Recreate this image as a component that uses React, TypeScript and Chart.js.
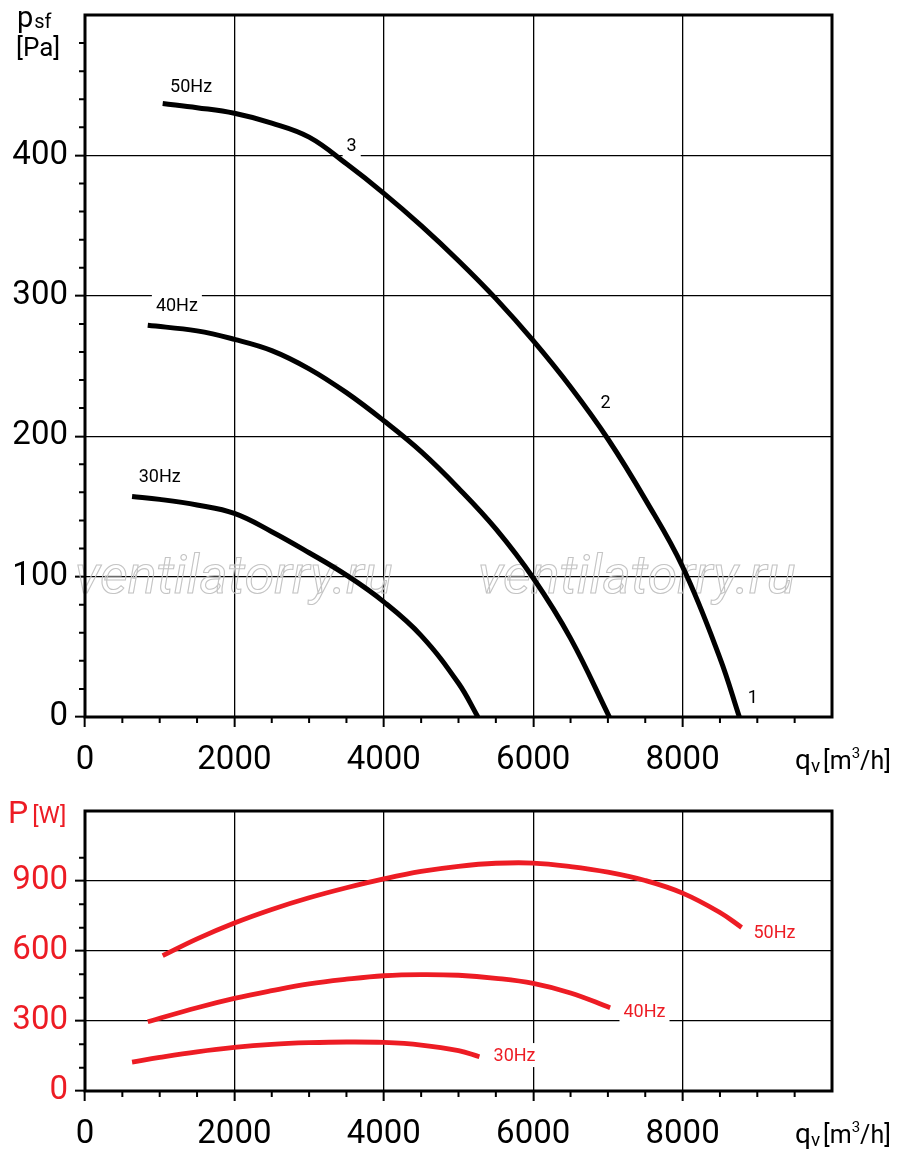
import React, { useEffect, useRef } from "react";
import { Chart, registerables } from "chart.js";

Chart.register(...registerables);

const BLACK = "#000000";
const RED = "#ed1c24";
const FONT = "Roboto, 'DejaVu Sans', sans-serif";

// pressure curves, psf [Pa] over qv [m3/h]
const flow50 = [1040, 1500, 2000, 2500, 3000, 3500, 4000, 4500, 5000, 5500, 6000, 6500, 7000, 7500, 8000, 8500, 8760];
const pressure50 = [437, 434, 430, 423, 413, 394, 373, 350, 325, 298, 268, 235, 198, 155, 107, 42, 0];
const flow40 = [840, 1500, 2000, 2500, 3000, 3500, 4000, 4500, 5000, 5500, 6000, 6500, 7020];
const pressure40 = [279, 275, 269, 261, 248, 231, 211, 189, 163, 134, 99, 56, 0];
const flow30 = [630, 1000, 1500, 2000, 2500, 3000, 3500, 4000, 4500, 5000, 5260];
const pressure30 = [157, 155, 151, 145, 132, 117, 101, 82, 58, 24, 0];

// power curves, P [W] over qv [m3/h]
const flowW50 = [1040, 1500, 2000, 2500, 3000, 3500, 4000, 4500, 5000, 5500, 6000, 6500, 7000, 7500, 8000, 8500, 8790];
const power50 = [580, 652, 720, 778, 828, 871, 909, 941, 963, 976, 977, 962, 938, 902, 848, 765, 701];
const flowW40 = [840, 1500, 2000, 2500, 3000, 3500, 4000, 4500, 5000, 5500, 6000, 6500, 7030];
const power40 = [297, 357, 397, 430, 459, 479, 494, 499, 496, 483, 461, 420, 357];
const flowW30 = [630, 1000, 1500, 2000, 2500, 3000, 3500, 4000, 4500, 5000, 5280];
const power30 = [124, 144, 168, 187, 200, 207, 210, 208, 197, 173, 147];

const flowTickLabels = [0, 2000, 4000, 6000, 8000];
const pressureTickLabels = [0, 100, 200, 300, 400];
const powerTickLabels = [0, 300, 600, 900];

type Note = { text: string; x: number; y: number };

const pressureNotes: Note[] = [
  { text: "50Hz", x: 1420, y: 449 },
  { text: "40Hz", x: 1230, y: 293 },
  { text: "30Hz", x: 1000, y: 171 },
  { text: "3", x: 3570, y: 407 },
  { text: "2", x: 6970, y: 224 },
  { text: "1", x: 8940, y: 14 },
];
const powerNotes: Note[] = [
  { text: "50Hz", x: 9230, y: 681 },
  { text: "40Hz", x: 7490, y: 339 },
  { text: "30Hz", x: 5750, y: 154 },
];

type Series = { flow: number[]; values: number[]; color: string; width: number };
type Part = { text: string; size: number; dy: number; gap?: number };

function drawParts(ctx: CanvasRenderingContext2D, x: number, y: number, parts: Part[], color: string) {
  ctx.save();
  ctx.fillStyle = color;
  ctx.textAlign = "left";
  ctx.textBaseline = "alphabetic";
  let cx = x;
  for (const p of parts) {
    cx += p.gap ?? 0;
    ctx.font = `${p.size}px ${FONT}`;
    ctx.fillText(p.text, cx, y + p.dy);
    cx += ctx.measureText(p.text).width;
  }
  ctx.restore();
}

function drawFlowTitle(ctx: CanvasRenderingContext2D, bottom: number) {
  drawParts(
    ctx,
    795,
    bottom + 52,
    [
      { text: "q", size: 28, dy: 0 },
      { text: "v", size: 19, dy: 3 },
      { text: "[m", size: 25, dy: 0, gap: 3 },
      { text: "3", size: 15, dy: -11 },
      { text: "/h]", size: 25, dy: 0 },
    ],
    BLACK
  );
}

interface PanelProps {
  top: number;
  height: number;
  padTop: number;
  plotHeight: number;
  series: Series[];
  yMax: number;
  yStep: number;
  yMajor: number;
  minorMax: number;
  yLabels: number[];
  yColor: string;
  notes: Note[];
  noteColor: string;
  watermark?: boolean;
  titles: (ctx: CanvasRenderingContext2D, area: { left: number; top: number; right: number; bottom: number }) => void;
}

function Panel(props: PanelProps) {
  const canvasRef = useRef<HTMLCanvasElement | null>(null);

  useEffect(() => {
    if (!canvasRef.current) return;
    const { series, yMax, yStep, yMajor, minorMax, yLabels, yColor, notes, noteColor, watermark, titles } = props;

    const decorations = {
      id: "decorations",
      beforeDatasetsDraw(chart: Chart) {
        const { ctx } = chart;
        const sx = chart.scales.x;
        const sy = chart.scales.y;
        ctx.save();
        if (watermark) {
          ctx.font = `italic 54px ${FONT}`;
          ctx.strokeStyle = "#c4c4c4";
          ctx.lineWidth = 1.1;
          ctx.textBaseline = "alphabetic";
          ctx.strokeText("ventilatorry.ru", 75, 593);
          ctx.strokeText("ventilatorry.ru", 478, 593);
        }
        ctx.font = `18px ${FONT}`;
        ctx.textAlign = "center";
        ctx.textBaseline = "middle";
        for (const n of notes) {
          const px = sx.getPixelForValue(n.x);
          const py = sy.getPixelForValue(n.y);
          const w = ctx.measureText(n.text).width;
          ctx.fillStyle = "#ffffff";
          ctx.fillRect(px - w / 2 - 4, py - 12, w + 8, 24);
          ctx.fillStyle = noteColor;
          ctx.fillText(n.text, px, py + 1);
        }
        ctx.restore();
      },
      afterDraw(chart: Chart) {
        const { ctx, chartArea } = chart;
        const sx = chart.scales.x;
        const sy = chart.scales.y;
        ctx.save();
        // short outward minor ticks
        ctx.strokeStyle = BLACK;
        ctx.lineWidth = 2;
        ctx.beginPath();
        for (const t of sx.ticks) {
          if (t.value % 2000 === 0 || t.value >= 10000) continue;
          const px = sx.getPixelForValue(t.value);
          ctx.moveTo(px, chartArea.bottom);
          ctx.lineTo(px, chartArea.bottom + 6);
        }
        for (const t of sy.ticks) {
          if (t.value % yMajor === 0 || t.value >= minorMax) continue;
          const py = sy.getPixelForValue(t.value);
          ctx.moveTo(chartArea.left, py);
          ctx.lineTo(chartArea.left - 6, py);
        }
        ctx.stroke();
        // frame
        ctx.lineWidth = 3;
        ctx.strokeRect(chartArea.left, chartArea.top, chartArea.right - chartArea.left, chartArea.bottom - chartArea.top);
        ctx.restore();
        titles(ctx, chartArea);
      },
    };

    const chart = new Chart(canvasRef.current, {
      type: "scatter",
      data: {
        datasets: series.map((s) => ({
          data: s.flow.map((q, i) => ({ x: q, y: s.values[i] })),
          showLine: true,
          borderColor: s.color,
          borderWidth: s.width,
          borderCapStyle: "butt",
          tension: 0.4,
          pointRadius: 0,
          pointHoverRadius: 0,
          fill: false,
        })),
      },
      options: {
        animation: false,
        responsive: true,
        maintainAspectRatio: false,
        events: [],
        layout: { padding: { top: props.padTop, right: 68, left: 0, bottom: 0 } },
        plugins: { legend: { display: false }, tooltip: { enabled: false } },
        scales: {
          x: {
            type: "linear",
            min: 0,
            max: 10000,
            afterFit: (s: any) => {
              s.height = props.height - props.padTop - props.plotHeight;
              s.paddingLeft = 0;
              s.paddingRight = 0;
            },
            border: { display: false },
            grid: {
              color: (c: any) => (c.tick && c.tick.value % 2000 === 0 ? BLACK : "rgba(0,0,0,0)"),
              tickColor: (c: any) => (c.tick && c.tick.value % 2000 === 0 ? BLACK : "rgba(0,0,0,0)"),
              lineWidth: 1.3,
              tickWidth: 2,
              tickLength: 10,
            },
            ticks: {
              stepSize: 500,
              autoSkip: false,
              maxRotation: 0,
              minRotation: 0,
              padding: 14,
              color: BLACK,
              font: { family: FONT, size: 33 },
              callback: (v: any) => {
                if (v >= 10000) return null;
                return flowTickLabels.includes(v) ? String(v) : "";
              },
            },
          },
          y: {
            type: "linear",
            min: 0,
            max: yMax,
            afterFit: (s: any) => {
              s.width = 85;
              s.paddingTop = 0;
              s.paddingBottom = 0;
            },
            border: { display: false },
            grid: {
              color: (c: any) => (c.tick && c.tick.value % yMajor === 0 ? BLACK : "rgba(0,0,0,0)"),
              tickColor: (c: any) => (c.tick && c.tick.value % yMajor === 0 ? BLACK : "rgba(0,0,0,0)"),
              lineWidth: 1.3,
              tickWidth: 2,
              tickLength: 10,
            },
            ticks: {
              stepSize: yStep,
              autoSkip: false,
              padding: 7,
              color: yColor,
              font: { family: FONT, size: 33 },
              callback: (v: any) => {
                if (v >= yMax) return null;
                return yLabels.includes(v) ? String(v) : "";
              },
            },
          },
        },
      },
      plugins: [decorations],
    } as any);

    return () => {
      chart.destroy();
    };
  }, []);

  return (
    <div style={{ position: "absolute", left: 0, top: props.top, width: 900, height: props.height }}>
      <canvas ref={canvasRef} />
    </div>
  );
}

export default function App() {
  const pressureSeries: Series[] = [
    { flow: flow50, values: pressure50, color: BLACK, width: 5 },
    { flow: flow40, values: pressure40, color: BLACK, width: 5 },
    { flow: flow30, values: pressure30, color: BLACK, width: 5 },
  ];
  const powerSeries: Series[] = [
    { flow: flowW50, values: power50, color: RED, width: 4.8 },
    { flow: flowW40, values: power40, color: RED, width: 4.8 },
    { flow: flowW30, values: power30, color: RED, width: 4.8 },
  ];

  return (
    <div style={{ position: "absolute", left: 0, top: 0, width: 900, height: 1152, background: "#ffffff" }}>
      <Panel
        top={0}
        height={790}
        padTop={15}
        plotHeight={702}
        series={pressureSeries}
        yMax={500}
        yStep={20}
        yMajor={100}
        minorMax={500}
        yLabels={pressureTickLabels}
        yColor={BLACK}
        notes={pressureNotes}
        noteColor={BLACK}
        watermark
        titles={(ctx, area) => {
          drawParts(ctx, 17, 27, [
            { text: "p", size: 29, dy: 0 },
            { text: "sf", size: 20, dy: 1, gap: 1 },
          ], BLACK);
          drawParts(ctx, 16, 56, [{ text: "[Pa]", size: 26, dy: 0 }], BLACK);
          drawFlowTitle(ctx, area.bottom);
        }}
      />
      <Panel
        top={790}
        height={362}
        padTop={21}
        plotHeight={280}
        series={powerSeries}
        yMax={1200}
        yStep={100}
        yMajor={300}
        minorMax={1100}
        yLabels={powerTickLabels}
        yColor={RED}
        notes={powerNotes}
        noteColor={RED}
        titles={(ctx, area) => {
          drawParts(ctx, 8, 33, [
            { text: "P", size: 32, dy: 0 },
            { text: "[W]", size: 24, dy: 0, gap: 4 },
          ], RED);
          drawFlowTitle(ctx, area.bottom);
        }}
      />
    </div>
  );
}
